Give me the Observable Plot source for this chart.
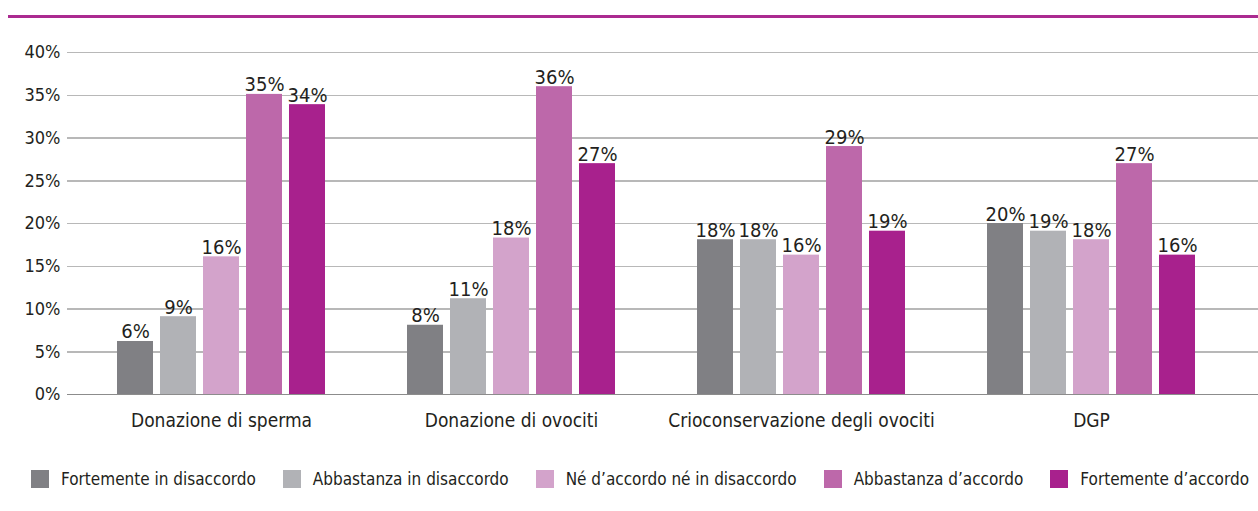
<!DOCTYPE html>
<html>
<head>
<meta charset="utf-8">
<script src="https://cdn.jsdelivr.net/npm/d3@7"></script>
<script src="https://cdn.jsdelivr.net/npm/@observablehq/plot@0.6"></script>
<style>
  body { margin: 0; background: #fff; font-family: "Liberation Sans Narrow", "DejaVu Sans Condensed", "Roboto", sans-serif; color: #231f20; }
  #wrap { width: 1258px; position: relative; }
  #topline { margin-left: 8px; margin-top: 15px; height: 3px; background: #ab2a90; }
  #legend { display: flex; justify-content: space-between; margin: 35px 9px 0 31px; font-size: 17px; }
  .item { display: flex; align-items: center; }
  .sw { width: 18px; height: 18px; margin-right: 12px; }
</style>
</head>
<body>
<div id="wrap">
  <div id="topline"></div>
  <div id="chart"></div>
  <div id="legend"></div>
</div>
<script>
const groups = ["Donazione di sperma", "Donazione di ovociti", "Crioconservazione degli ovociti", "DGP"];
const series = ["Fortemente in disaccordo", "Abbastanza in disaccordo", "Né d’accordo né in disaccordo", "Abbastanza d’accordo", "Fortemente d’accordo"];
const colors = ["#808084", "#b1b2b6", "#d3a3cb", "#bd68aa", "#a8218d"];
const sperma = [6.2, 9.1, 16.1, 35.1, 33.9];
const ovociti = [8.1, 11.2, 18.3, 36.0, 27.0];
const crio = [18.1, 18.1, 16.3, 29.0, 19.1];
const dgp = [20.0, 19.1, 18.1, 27.0, 16.3];
const yTicks = [0, 5, 10, 15, 20, 25, 30, 35, 40];

const rows = [sperma, ovociti, crio, dgp];
const data = groups.flatMap((g, i) => series.map((s, j) => ({group: g, series: s, value: rows[i][j]})));

const font = '"Liberation Sans Narrow", "DejaVu Sans Condensed", "Roboto", sans-serif';

const chart = Plot.plot({
  width: 1258,
  height: 416,
  marginLeft: 67,
  marginRight: 0,
  marginTop: 34,
  marginBottom: 40,
  style: {fontFamily: font, color: "#231f20", background: "#fff"},
  fx: {domain: groups, paddingInner: 0, paddingOuter: 0.0534, align: 0.29, label: null},
  x: {domain: series, paddingInner: 0.159, paddingOuter: 0.875, axis: null},
  y: {domain: [0, 40], label: null},
  color: {domain: series, range: colors},
  marks: [
    Plot.ruleY(yTicks.filter(d => d > 0), {stroke: "#b8b8b8", strokeWidth: 1.5, insetLeft: -9, insetRight: -22, shapeRendering: "crispEdges"}),
    Plot.ruleY([0], {stroke: "#8c8c8c", strokeWidth: 1.5, insetLeft: -9, insetRight: -22, shapeRendering: "crispEdges"}),
    Plot.barY(data, {fx: "group", x: "series", y: "value", fill: "series"}),
    Plot.text(data, {fx: "group", x: "series", y: "value", text: d => Math.round(d.value) + "%", lineAnchor: "bottom", dy: -3, fontSize: 20, fill: "#231f20"}),
    Plot.axisY({ticks: yTicks, tickFormat: d => d + "%", tickSize: 0, tickPadding: 16, fontSize: 18, label: null}),
    Plot.axisFx({tickSize: 0, tickPadding: 19, fontSize: 19, label: null, anchor: "bottom"})
  ]
});
document.getElementById("chart").appendChild(chart);

const legend = document.getElementById("legend");
series.forEach((s, i) => {
  const item = document.createElement("div");
  item.className = "item";
  const sw = document.createElement("div");
  sw.className = "sw";
  sw.style.background = colors[i];
  const t = document.createElement("span");
  t.textContent = s;
  item.appendChild(sw);
  item.appendChild(t);
  legend.appendChild(item);
});
</script>
</body>
</html>
